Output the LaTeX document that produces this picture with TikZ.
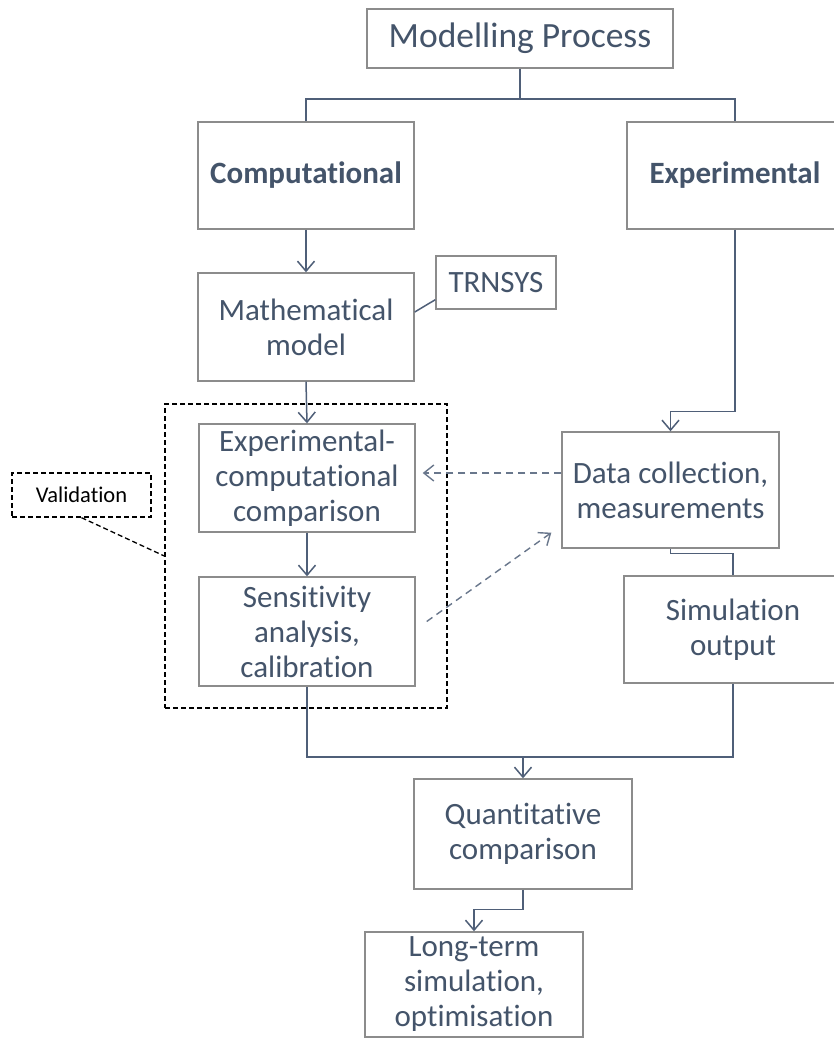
\documentclass[tikz,border=0pt]{standalone}
\usepackage{fontspec}
\setmainfont{Carlito}[Ligatures={NoCommon}]
\usetikzlibrary{arrows.meta,calc}
\definecolor{txt}{HTML}{44546A}
\definecolor{wire}{HTML}{4F5F78}
\definecolor{frame}{HTML}{8C8C8C}
\begin{document}
\begin{tikzpicture}[x=1pt,y=-1pt,
  box/.style={draw=frame,line width=1.4pt,fill=white,text=txt,align=center,
    inner sep=0pt,font=\fontsize{31}{35}\selectfont},
  boldbox/.style={box,font=\fontsize{31}{35}\selectfont\bfseries},
  groupbox/.style={draw=black,line width=1.3pt,dash pattern=on 5pt off 3pt,inner sep=0pt},
  notebox/.style={draw=black,line width=1.3pt,dash pattern=on 5pt off 3pt,inner sep=0pt,
    text=black,font=\fontsize{22.5}{26}\selectfont},
  wireline/.style={draw=wire,line width=1.5pt},
  flow/.style={wireline,-{Straight Barb[length=10pt,width=17pt]}},
  dashflow/.style={draw=wire!85,line width=1.4pt,dash pattern=on 7pt off 5pt,
    -{Straight Barb[length=10pt,width=16pt]}}]
\useasboundingbox[fill=white] (0,0) rectangle (833,1039);

% grouping frame for the validation steps
\node[groupbox,minimum width=282pt,minimum height=304pt] (valbox) at (306,556) {};

% process boxes
\node[box,minimum width=306pt,minimum height=59pt,font=\fontsize{35.5}{40}\selectfont] (title) at (520,38.5) {Modelling Process};
\node[boldbox,minimum width=216pt,minimum height=107pt] (comp) at (306,175.5) {Computational};
\node[boldbox,minimum width=216pt,minimum height=107pt] (exper) at (735,175.5) {Experimental};
\node[box,minimum width=216pt,minimum height=108pt] (math) at (306,327) {Mathematical\\model};
\node[box,minimum width=120pt,minimum height=53pt] (trnsys) at (496,282.5) {TRNSYS};
\node[box,minimum width=216pt,minimum height=108pt] (expcomp) at (307,478) {Experimental-\\computational\\comparison};
\node[box,minimum width=216pt,minimum height=109pt] (sens) at (307,631.5) {Sensitivity\\analysis,\\calibration};
\node[notebox,minimum width=139pt,minimum height=44pt] (valid) at (81.5,495) {Validation};
\node[box,minimum width=217pt,minimum height=116pt] (data) at (670.5,490) {Data collection,\\measurements};
\node[box,minimum width=218pt,minimum height=107pt] (simout) at (733,629.5) {Simulation\\output};
\node[box,minimum width=218pt,minimum height=110pt] (quant) at (523,834) {Quantitative\\comparison};
\node[box,minimum width=218pt,minimum height=105pt] (longt) at (474,984.5) {Long-term\\simulation,\\optimisation};

% junction points of the connectors
\coordinate (split) at (520,99);
\coordinate (merge) at (523,757);

% top split into the two branches
\draw[wireline] (title.south) -- (split);
\draw[wireline] (comp.north) |- (split) -| (exper.north);

% computational branch
\draw[flow] (comp.south) -- (math.north);
\draw[wireline] ($(math.east)+(0,-15)$) -- ($(trnsys.south west)+(0,-10)$);
\draw[flow] (math.south) -- (expcomp.north);
\draw[flow] (expcomp.south) -- (sens.north);

% experimental branch
\draw[flow] (exper.south) -- ++(0,182) -| (data.north);
\draw[wireline] (data.south) -- ++(0,5) -| (simout.north);

% exchanges between the branches
\draw[dashflow] ($(data.west)+(0,-17)$) -- ($(expcomp.east)+(7,-5)$);
\draw[dashflow] ($(sens.east)+(11,-10)$) -- ($(data.south west)+(-10,-16)$);

% validation note
\draw[black,line width=1.3pt,dash pattern=on 5pt off 3pt] (valid.south) -- (valbox.west);

% merging into the comparison
\draw[wireline] (simout.south) |- (merge) -| (sens.south);
\draw[flow] (merge) -- (quant.north);
\draw[flow] (quant.south) -- ++(0,20) -| (longt.north);
\end{tikzpicture}
\end{document}
